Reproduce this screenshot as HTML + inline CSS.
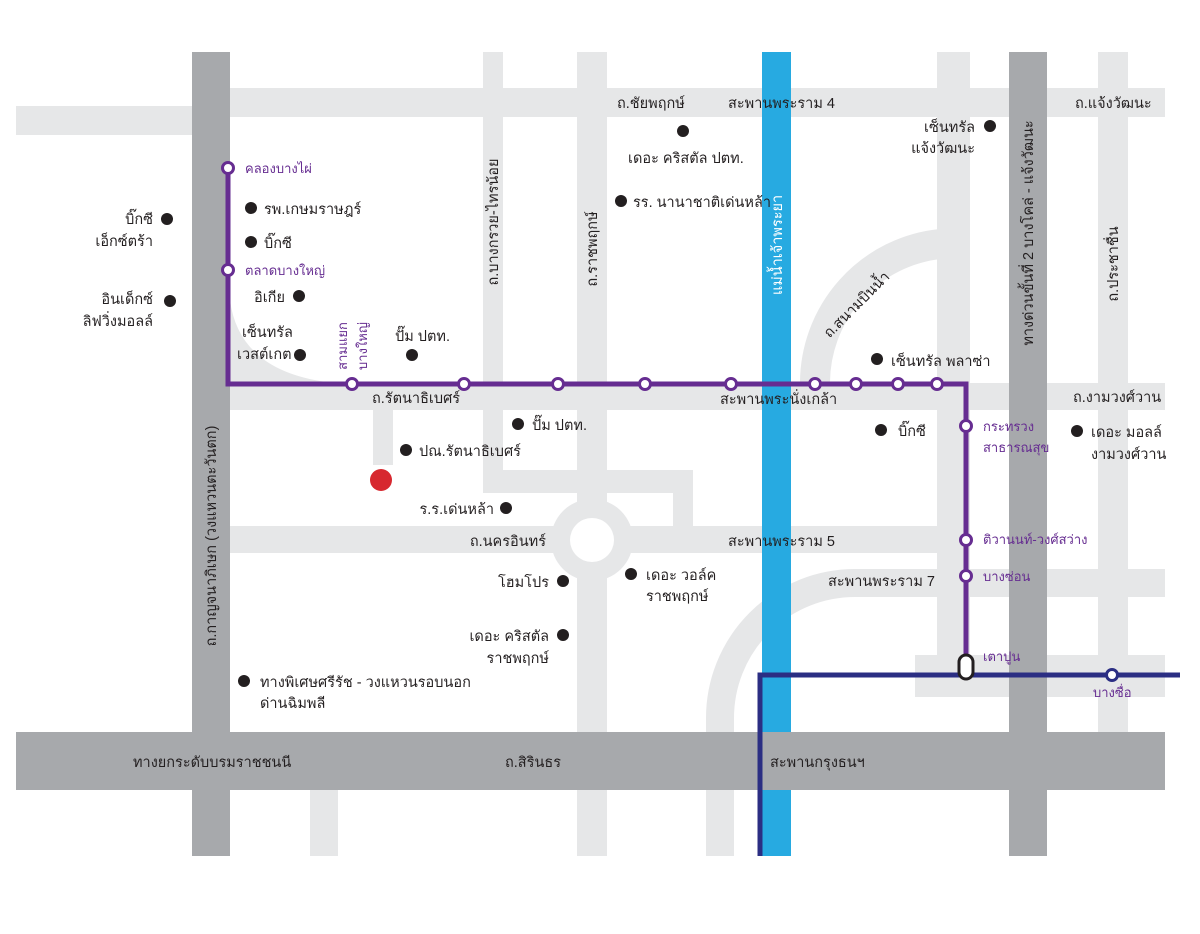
<!DOCTYPE html>
<html><head><meta charset="utf-8"><style>
html,body{margin:0;padding:0;background:#fff}
svg{display:block}
text{font-family:"Liberation Sans","DejaVu Sans",sans-serif;font-size:14.5px;fill:#231f20}
.p{fill:#662d91;font-size:13px}
.w{fill:#fff}
</style></head><body>
<svg width="1200" height="934" viewBox="0 0 1200 934" xmlns="http://www.w3.org/2000/svg">
<g fill="#e6e7e8">
<rect x="230" y="88" width="935" height="29"/>
<rect x="16" y="106" width="176" height="29"/>
<rect x="483" y="52" width="20" height="441"/>
<rect x="483" y="470" width="210" height="23"/>
<rect x="673" y="470" width="20" height="60"/>
<rect x="577" y="52" width="30" height="804"/>
<rect x="230" y="383" width="935" height="27"/>
<rect x="230" y="526" width="740" height="27"/>
<rect x="373" y="405" width="20" height="60"/>
<rect x="937" y="52" width="33" height="645"/>
<rect x="1098" y="52" width="30" height="680"/>
<rect x="915" y="655" width="250" height="42"/>
<rect x="310" y="790" width="28" height="66"/>
<circle cx="592" cy="540" r="41"/>
<path d="M230,300 Q240,378 348,384 L230,384 Z"/>
</g>
<circle cx="592" cy="540" r="22" fill="#fff"/>
<g fill="none" stroke="#e6e7e8">
<path d="M940,244 A140,140 0 0 0 815,384" stroke-width="30"/>
<path d="M1165,583 H855 A135,135 0 0 0 720,718 V856" stroke-width="28"/>
</g>
<rect x="762" y="52" width="29" height="804" fill="#27aae1"/>
<g fill="#a7a9ac">
<rect x="192" y="52" width="38" height="804"/>
<rect x="1009" y="52" width="38" height="804"/>
<rect x="16" y="732" width="1149" height="58"/>
</g>
<g fill="none" stroke-linejoin="miter">
<path d="M228,168 V384 H966 V668" stroke="#662d91" stroke-width="5"/>
<path d="M760,856 V675 H1180" stroke="#2b2e83" stroke-width="5"/>
</g>
<g fill="#fff" stroke="#662d91" stroke-width="3">
<circle cx="228" cy="168" r="5.5"/><circle cx="228" cy="270" r="5.5"/>
<circle cx="352" cy="384" r="5.5"/><circle cx="464" cy="384" r="5.5"/>
<circle cx="558" cy="384" r="5.5"/><circle cx="645" cy="384" r="5.5"/>
<circle cx="731" cy="384" r="5.5"/><circle cx="815" cy="384" r="5.5"/>
<circle cx="856" cy="384" r="5.5"/><circle cx="898" cy="384" r="5.5"/>
<circle cx="937" cy="384" r="5.5"/><circle cx="966" cy="426" r="5.5"/>
<circle cx="966" cy="540" r="5.5"/><circle cx="966" cy="576" r="5.5"/>
</g>
<circle cx="1112" cy="675" r="5.5" fill="#fff" stroke="#2b2e83" stroke-width="3"/>
<rect x="959" y="655" width="14" height="24" rx="7" fill="#fff" stroke="#231f20" stroke-width="3"/>
<g fill="#231f20">
<circle cx="683" cy="131" r="6"/><circle cx="621" cy="201" r="6"/><circle cx="990" cy="126" r="6"/>
<circle cx="167" cy="219" r="6"/><circle cx="170" cy="301" r="6"/>
<circle cx="251" cy="208" r="6"/><circle cx="251" cy="242" r="6"/><circle cx="299" cy="296" r="6"/>
<circle cx="300" cy="355" r="6"/><circle cx="412" cy="355" r="6"/><circle cx="877" cy="359" r="6"/>
<circle cx="881" cy="430" r="6"/><circle cx="1077" cy="431" r="6"/><circle cx="518" cy="424" r="6"/>
<circle cx="406" cy="450" r="6"/><circle cx="506" cy="508" r="6"/><circle cx="563" cy="581" r="6"/>
<circle cx="631" cy="574" r="6"/><circle cx="563" cy="635" r="6"/><circle cx="244" cy="681" r="6"/>
</g>
<circle cx="381" cy="480" r="11" fill="#d7282f"/>
<text x="617" y="108">ถ.ชัยพฤกษ์</text>
<text x="728" y="108">สะพานพระราม 4</text>
<text x="1075" y="108">ถ.แจ้งวัฒนะ</text>
<text x="628" y="163">เดอะ คริสตัล ปตท.</text>
<text x="633" y="207">รร. นานาชาติเด่นหล้า</text>
<text x="975" y="132" text-anchor="end">เซ็นทรัล</text>
<text x="975" y="153" text-anchor="end">แจ้งวัฒนะ</text>
<text x="153" y="224" text-anchor="end">บิ๊กซี</text>
<text x="153" y="246" text-anchor="end">เอ็กซ์ตร้า</text>
<text x="153" y="304" text-anchor="end">อินเด็กซ์</text>
<text x="153" y="326" text-anchor="end">ลิฟวิ่งมอลล์</text>
<text class="p" x="245" y="173">คลองบางไผ่</text>
<text class="p" x="245" y="275">ตลาดบางใหญ่</text>
<text x="264" y="214">รพ.เกษมราษฎร์</text>
<text x="264" y="248">บิ๊กซี</text>
<text x="254" y="302">อิเกีย</text>
<text x="242" y="337">เซ็นทรัล</text>
<text x="237" y="359">เวสต์เกต</text>
<text class="p" transform="translate(347,346) rotate(-90)" text-anchor="middle">สามแยก</text>
<text class="p" transform="translate(367,346) rotate(-90)" text-anchor="middle">บางใหญ่</text>
<text x="395" y="341">ปั๊ม ปตท.</text>
<text x="372" y="403">ถ.รัตนาธิเบศร์</text>
<text transform="translate(498,222) rotate(-90)" text-anchor="middle">ถ.บางกรวย-ไทรน้อย</text>
<text transform="translate(597,249) rotate(-90)" text-anchor="middle">ถ.ราชพฤกษ์</text>
<text class="w" transform="translate(782,245) rotate(-90)" text-anchor="middle">แม่น้ำเจ้าพระยา</text>
<text transform="translate(1033,233) rotate(-90)" text-anchor="middle">ทางด่วนขั้นที่ 2 บางโคล่ - แจ้งวัฒนะ</text>
<text transform="translate(1118,264) rotate(-90)" text-anchor="middle">ถ.ประชาชื่น</text>
<text transform="translate(216,536) rotate(-90)" text-anchor="middle">ถ.กาญจนาภิเษก (วงแหวนตะวันตก)</text>
<text transform="translate(860,308) rotate(-45)" text-anchor="middle">ถ.สนามบินน้ำ</text>
<text x="891" y="366">เซ็นทรัล พลาซ่า</text>
<text x="720" y="404">สะพานพระนั่งเกล้า</text>
<text x="1073" y="402">ถ.งามวงศ์วาน</text>
<text x="898" y="436">บิ๊กซี</text>
<text class="p" x="983" y="431">กระทรวง</text>
<text class="p" x="983" y="452">สาธารณสุข</text>
<text x="1091" y="437">เดอะ มอลล์</text>
<text x="1091" y="459">งามวงศ์วาน</text>
<text x="532" y="430">ปั๊ม ปตท.</text>
<text x="419" y="456">ปณ.รัตนาธิเบศร์</text>
<text x="494" y="514" text-anchor="end">ร.ร.เด่นหล้า</text>
<text x="546" y="546" text-anchor="end">ถ.นครอินทร์</text>
<text x="728" y="546">สะพานพระราม 5</text>
<text class="p" x="983" y="544">ติวานนท์-วงศ์สว่าง</text>
<text class="p" x="983" y="581">บางซ่อน</text>
<text class="p" x="983" y="661">เตาปูน</text>
<text class="p" x="1093" y="697">บางซื่อ</text>
<text x="828" y="586">สะพานพระราม 7</text>
<text x="549" y="587" text-anchor="end">โฮมโปร</text>
<text x="646" y="580">เดอะ วอล์ค</text>
<text x="646" y="601">ราชพฤกษ์</text>
<text x="549" y="641" text-anchor="end">เดอะ คริสตัล</text>
<text x="549" y="663" text-anchor="end">ราชพฤกษ์</text>
<text x="260" y="687">ทางพิเศษศรีรัช - วงแหวนรอบนอก</text>
<text x="260" y="708">ด่านฉิมพลี</text>
<text x="133" y="767">ทางยกระดับบรมราชชนนี</text>
<text x="505" y="767">ถ.สิรินธร</text>
<text x="770" y="767">สะพานกรุงธนฯ</text>
</svg>
</body></html>
